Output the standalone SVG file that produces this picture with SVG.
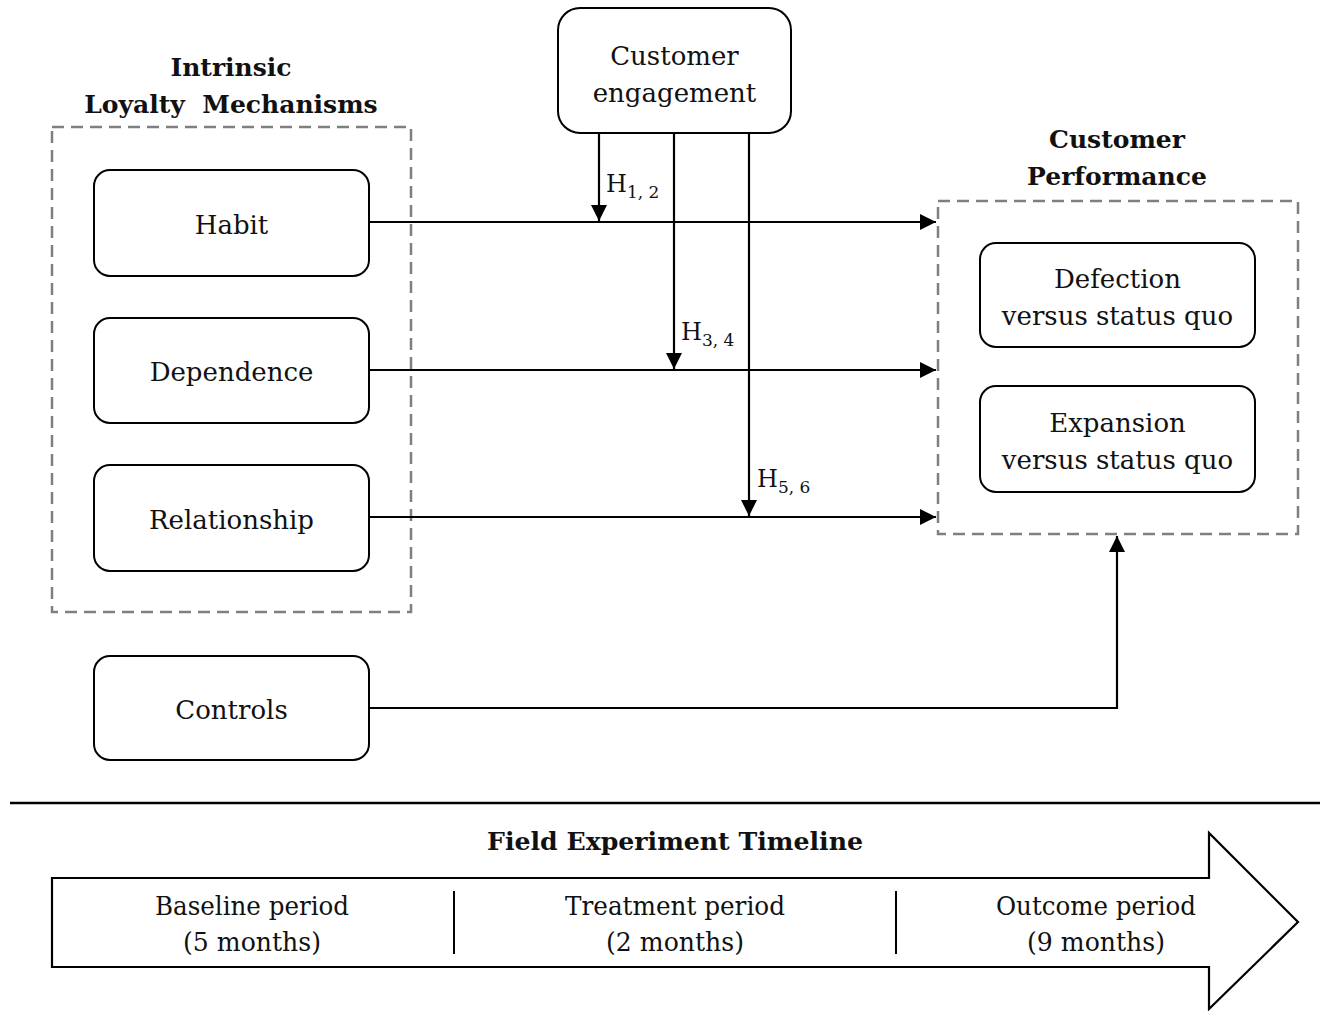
<svg xmlns="http://www.w3.org/2000/svg" width="1320" height="1011" viewBox="0 0 1320 1011">
<defs>
<style>
text{font-family:"DejaVu Serif","Liberation Serif",serif;fill:#111;text-anchor:middle}
.t{font-size:26px}
.b{font-size:25px;font-weight:bold}
.node{fill:#fff;stroke:#000;stroke-width:2}
.dash{fill:none;stroke:#7f7f7f;stroke-width:2.5;stroke-dasharray:12 7}
.conn{fill:none;stroke:#000;stroke-width:2.2}
.h{font-size:24px;text-anchor:start}
.sub{font-size:17px}
.tl{font-size:26px}
</style>
<marker id="arr" viewBox="0 0 14 14" refX="14" refY="7" markerWidth="16" markerHeight="16" markerUnits="userSpaceOnUse" orient="auto">
<path d="M0,0 L14,7 L0,14 z" fill="#000"/>
</marker>
</defs>
<rect width="1320" height="1011" fill="#fff"/>

<g id="group-intrinsic">
<rect class="dash" x="52" y="127" width="359" height="485"/>
<text class="b" x="231" y="76">Intrinsic</text>
<text class="b" x="231" y="113" xml:space="preserve">Loyalty  Mechanisms</text>
</g>
<g id="group-performance">
<rect class="dash" x="938" y="201" width="360" height="333"/>
<text class="b" x="1117" y="148">Customer</text>
<text class="b" x="1117" y="185">Performance</text>
</g>

<g id="connectors">
<line class="conn" x1="369" y1="222" x2="936" y2="222" marker-end="url(#arr)"/>
<line class="conn" x1="369" y1="370" x2="936" y2="370" marker-end="url(#arr)"/>
<line class="conn" x1="369" y1="517" x2="936" y2="517" marker-end="url(#arr)"/>
<line class="conn" x1="599" y1="133" x2="599" y2="221" marker-end="url(#arr)"/>
<line class="conn" x1="674" y1="133" x2="674" y2="369" marker-end="url(#arr)"/>
<line class="conn" x1="749" y1="133" x2="749" y2="516" marker-end="url(#arr)"/>
<polyline class="conn" points="369,708 1117,708 1117,536" marker-end="url(#arr)"/>
<text class="h" x="606" y="192">H<tspan class="sub" dy="6">1, 2</tspan></text>
<text class="h" x="681" y="340">H<tspan class="sub" dy="6">3, 4</tspan></text>
<text class="h" x="757" y="487">H<tspan class="sub" dy="6">5, 6</tspan></text>
</g>

<g id="node-engagement">
<rect class="node" x="558" y="8" width="233" height="125" rx="22"/>
<text class="t" x="674.5" y="65">Customer</text>
<text class="t" x="674.5" y="102">engagement</text>
</g>
<g id="node-habit">
<rect class="node" x="94" y="170" width="275" height="106" rx="16"/>
<text class="t" x="231.5" y="234">Habit</text>
</g>
<g id="node-dependence">
<rect class="node" x="94" y="318" width="275" height="105" rx="16"/>
<text class="t" x="231.5" y="381">Dependence</text>
</g>
<g id="node-relationship">
<rect class="node" x="94" y="465" width="275" height="106" rx="16"/>
<text class="t" x="231.5" y="529">Relationship</text>
</g>
<g id="node-controls">
<rect class="node" x="94" y="656" width="275" height="104" rx="16"/>
<text class="t" x="231.5" y="719">Controls</text>
</g>
<g id="node-defection">
<rect class="node" x="980" y="243" width="275" height="104" rx="16"/>
<text class="t" x="1117.5" y="288">Defection</text>
<text class="t" x="1117.5" y="325">versus status quo</text>
</g>
<g id="node-expansion">
<rect class="node" x="980" y="386" width="275" height="106" rx="16"/>
<text class="t" x="1117.5" y="432">Expansion</text>
<text class="t" x="1117.5" y="469">versus status quo</text>
</g>

<g id="timeline">
<line x1="10" y1="803" x2="1320" y2="803" stroke="#000" stroke-width="2.5"/>
<text class="b" x="675" y="850" textLength="376" lengthAdjust="spacingAndGlyphs">Field Experiment Timeline</text>
<polygon points="52,878 1209,878 1209,833 1298,922 1209,1009 1209,967 52,967" fill="#fff" stroke="#000" stroke-width="2.2"/>
<line x1="454" y1="891" x2="454" y2="954" stroke="#000" stroke-width="2"/>
<line x1="896" y1="891" x2="896" y2="954" stroke="#000" stroke-width="2"/>
<text class="tl" x="252" y="915" textLength="194" lengthAdjust="spacingAndGlyphs">Baseline period</text>
<text class="tl" x="252" y="951" textLength="138" lengthAdjust="spacingAndGlyphs">(5 months)</text>
<text class="tl" x="675" y="915" textLength="220" lengthAdjust="spacingAndGlyphs">Treatment period</text>
<text class="tl" x="675" y="951" textLength="138" lengthAdjust="spacingAndGlyphs">(2 months)</text>
<text class="tl" x="1096" y="915" textLength="200" lengthAdjust="spacingAndGlyphs">Outcome period</text>
<text class="tl" x="1096" y="951" textLength="138" lengthAdjust="spacingAndGlyphs">(9 months)</text>
</g>
</svg>
